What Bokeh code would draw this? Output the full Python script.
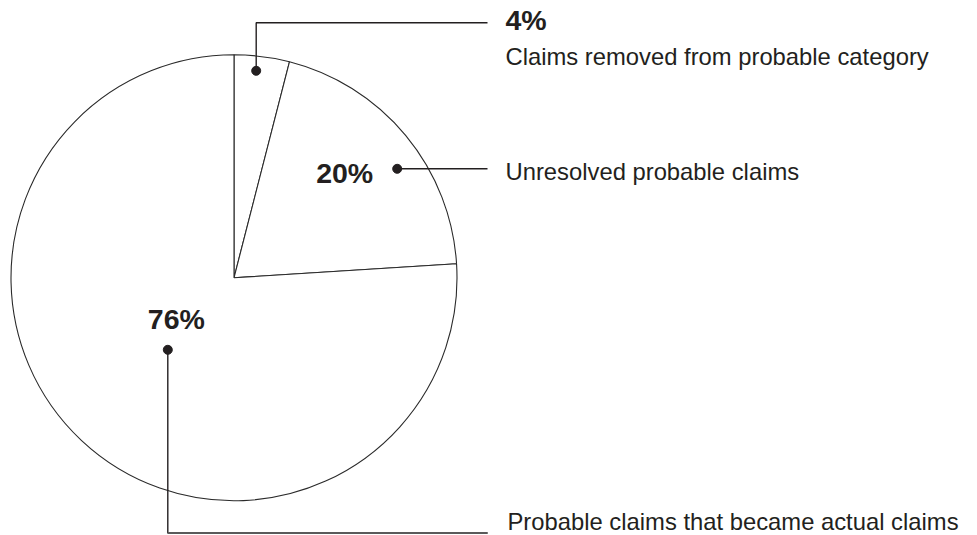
import math
from bokeh.plotting import figure
from bokeh.models import Range1d, ColumnDataSource
from bokeh.core.properties import value
from bokeh.embed import file_html
from bokeh.resources import INLINE

# ---- data ----
shares = [4, 20, 76]
pct_labels = ["4%", "20%", "76%"]
descriptions = [
    "Claims removed from probable category",
    "Unresolved probable claims",
    "Probable claims that became actual claims",
]

# ---- layout (pixel coordinates, y measured from top) ----
W, H = 977, 535
CX, CY, R = 233.5, 277.3, 223
dots = [(255.7, 70.3), (396.7, 168.3), (167.3, 349.3)]
elbows = [[(255.7, 22.3), (487, 22.3)], [(487, 168.3)], [(167.3, 532.5), (487, 532.5)]]
pct_pos = [(505, 19.5, "left"), (372.7, 172.0, "right"), (147.3, 318.0, "left")]
desc_pos = [(505, 55.5), (505, 171.0), (507, 521.0)]
INK = "#231f20"


def Y(py):
    return H - py


p = figure(width=W, height=H, output_backend="svg", toolbar_location=None,
           x_range=Range1d(0, W), y_range=Range1d(0, H), min_border=0)
p.axis.visible = False
p.grid.visible = False
p.outline_line_color = None
p.background_fill_color = "white"
p.border_fill_color = "white"

# pie wedges
total = float(sum(shares))
starts, ends = [], []
c = 0.0
for s in shares:
    starts.append(math.pi / 2 - 2 * math.pi * c / total)
    c += s
    ends.append(math.pi / 2 - 2 * math.pi * c / total)
src = ColumnDataSource(dict(start=starts, end=ends, share=shares))
p.wedge(x=CX, y=Y(CY), radius=R, start_angle="start", end_angle="end",
        direction="clock", source=src, fill_color="white",
        line_color="#2a2a2a", line_width=1.1)

# leader lines
for i, (dx, dy) in enumerate(dots):
    pts = [(dx, dy)] + elbows[i]
    p.line([q[0] for q in pts], [Y(q[1]) for q in pts], line_color=INK,
           line_width=1.4)
# thicker gray bottom segment as in reference
p.line([elbows[2][0][0], elbows[2][1][0]], [Y(elbows[2][0][1]), Y(elbows[2][1][1])],
       line_color="#5a5a5a", line_width=2.2)

p.scatter([d[0] for d in dots], [Y(d[1]) for d in dots], size=9,
          fill_color=INK, line_color=INK)

# percentage labels
for (x, y, al), t in zip(pct_pos, pct_labels):
    p.text(x=[x], y=[Y(y)], text=[t], text_font=value("Liberation Sans"),
           text_font_style="bold", text_font_size="28.5px", text_color=INK,
           text_align=al, text_baseline="middle")

# descriptions
for (x, y), t in zip(desc_pos, descriptions):
    p.text(x=[x], y=[Y(y)], text=[t], text_font=value("Liberation Sans"),
           text_font_size="23.8px", text_color=INK,
           text_align="left", text_baseline="middle")

open("out.html", "w").write(file_html(p, INLINE))
